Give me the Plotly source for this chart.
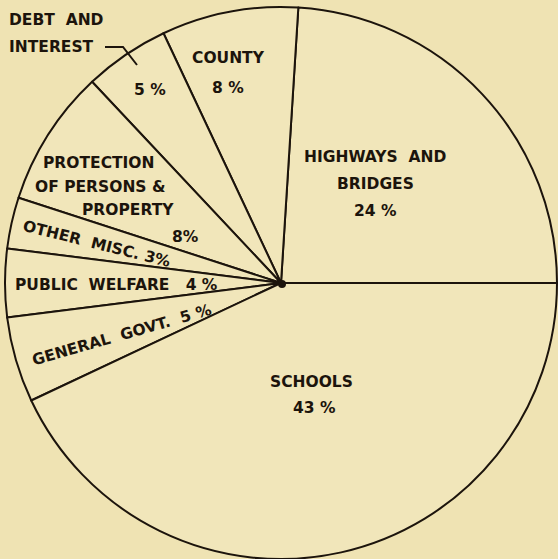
import plotly.graph_objects as go

W, H = 558, 559

categories = ["Highways and Bridges", "County", "Debt and Interest",
              "Protection of Persons & Property", "Other Misc.",
              "Public Welfare", "General Govt.", "Schools"]
percent_values = [24, 8, 5, 8, 3, 4, 5, 43]

BG = "#EFE3B3"
FILL = "#F1E6BA"
INK = "#1c140c"

# plotly's rotation marks where the first slice ends when drawn counterclockwise
start_rotation = 90 - 360 * percent_values[0] / sum(percent_values)

fig = go.Figure()
fig.add_trace(go.Pie(
    labels=categories,
    values=percent_values,
    sort=False,
    direction="counterclockwise",
    rotation=start_rotation,
    textinfo="none",
    hoverinfo="label+percent",
    showlegend=False,
    marker=dict(colors=[FILL] * len(categories), line=dict(color=INK, width=2)),
    domain=dict(x=[4 / W, 1.0], y=[0.0, 1 - 7 / H]),
))


def px(x):
    return x / W


def py(y):
    return 1 - y / H


NB = "\u00a0"
# label texts (text, x_px, y_px, angle, anchor)
label_items = [
    ("DEBT" + NB * 2 + "AND", 7, 20, 0, "left"),
    ("INTEREST", 7, 47, 0, "left"),
    ("5 %", 150, 90, 0, "center"),
    ("COUNTY", 228, 58, 0, "center"),
    ("8 %", 228, 88, 0, "center"),
    ("HIGHWAYS" + NB * 2 + "AND", 375, 157, 0, "center"),
    ("BRIDGES", 375, 184, 0, "center"),
    ("24 %", 375, 211, 0, "center"),
    ("PROTECTION", 99, 163, 0, "center"),
    ("OF PERSONS &", 100, 187, 0, "center"),
    ("PROPERTY", 128, 210, 0, "center"),
    ("8%", 185, 237, 0, "center"),
    ("OTHER" + NB * 2 + "MISC. 3%", 97, 244, 14, "center"),
    ("PUBLIC" + NB * 2 + "WELFARE" + NB * 3 + "4 %", 116, 285, 0, "center"),
    ("GENERAL" + NB * 2 + "GOVT." + NB * 2 + "5 %", 122, 335, -16, "center"),
    ("SCHOOLS", 311, 382, 0, "center"),
    ("43 %", 314, 408, 0, "center"),
]

annotations = []
for text, x, y, ang, anchor in label_items:
    annotations.append(dict(
        text=text, x=px(x), y=py(y), xref="paper", yref="paper",
        xanchor=anchor, yanchor="middle", showarrow=False, textangle=ang,
        font=dict(family="DejaVu Sans", size=15.5, color=INK, weight="bold"),
    ))

shapes = [
    # leader line from INTEREST to the 5% slice
    dict(type="path", xref="paper", yref="paper",
         path=f"M {px(105)},{py(47)} L {px(123)},{py(47)} L {px(137)},{py(65)}",
         line=dict(color=INK, width=2)),
    # centre dot
    dict(type="circle", xref="paper", yref="paper",
         x0=px(278), x1=px(286), y0=py(288), y1=py(280),
         fillcolor=INK, line=dict(color=INK, width=0)),
]

fig.update_layout(
    width=W, height=H,
    margin=dict(l=0, r=0, t=0, b=0),
    paper_bgcolor=BG, plot_bgcolor=BG,
    annotations=annotations,
    shapes=shapes,
)

fig.write_html(
    "out.html",
    config={"displayModeBar": False},
    post_script="document.body.style.margin='0';document.body.style.overflow='hidden';"
                f"document.body.style.background='{BG}';",
)
